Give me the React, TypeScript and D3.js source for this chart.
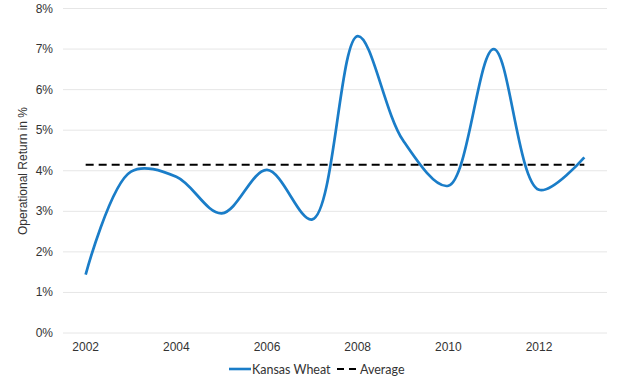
import React, { useEffect, useRef } from "react";
import * as d3 from "d3";

const years = [2002, 2003, 2004, 2005, 2006, 2007, 2008, 2009, 2010, 2011, 2012, 2013];
const kansasWheat = [1.44, 3.98, 3.85, 2.95, 4.02, 2.8, 7.32, 4.75, 3.63, 7.0, 3.53, 4.33];
const averageValue = 4.15;
const yTicks = [0, 1, 2, 3, 4, 5, 6, 7, 8];
const xTickYears = [2002, 2004, 2006, 2008, 2010, 2012];

const App: React.FC = () => {
  const svgRef = useRef<SVGSVGElement>(null);

  useEffect(() => {
    if (!svgRef.current) return;
    const svg = d3.select(svgRef.current);
    svg.selectAll("*").remove();

    const left = 63;
    const right = 607;
    const top = 8.5;
    const bottom = 333;

    const x = d3
      .scalePoint<number>()
      .domain(years)
      .range([left, right])
      .padding(0.5);

    const y = d3.scaleLinear().domain([0, 8]).range([bottom, top]);

    // Gridlines
    svg
      .append("g")
      .selectAll("line")
      .data(yTicks)
      .enter()
      .append("line")
      .attr("x1", left)
      .attr("x2", right)
      .attr("y1", (d) => y(d))
      .attr("y2", (d) => y(d))
      .attr("stroke", "#e6e6e6")
      .attr("stroke-width", 1);

    // Y tick labels
    svg
      .append("g")
      .selectAll("text")
      .data(yTicks)
      .enter()
      .append("text")
      .attr("x", 53)
      .attr("y", (d) => y(d) + 4)
      .attr("text-anchor", "end")
      .style("font-family", "'Liberation Sans', Arial, sans-serif")
      .style("font-size", "12px")
      .attr("fill", "#333")
      .text((d) => `${d}%`);

    // X tick labels
    svg
      .append("g")
      .selectAll("text")
      .data(xTickYears)
      .enter()
      .append("text")
      .attr("x", (d) => x(d) || 0)
      .attr("y", 351)
      .attr("text-anchor", "middle")
      .style("font-family", "'Liberation Sans', Arial, sans-serif")
      .style("font-size", "12px")
      .attr("fill", "#333")
      .text((d) => String(d));

    // Y axis label
    svg
      .append("text")
      .attr("transform", "rotate(-90)")
      .attr("x", -171)
      .attr("y", 27)
      .attr("text-anchor", "middle")
      .style("font-family", "'Liberation Sans', Arial, sans-serif")
      .style("font-size", "12px")
      .attr("fill", "#333")
      .text("Operational Return in %");

    // Average line
    const avgLine = d3
      .line<number>()
      .x((d) => x(d) || 0)
      .y(() => y(averageValue));

    svg
      .append("path")
      .datum(years)
      .attr("d", avgLine)
      .attr("fill", "none")
      .attr("stroke", "#000")
      .attr("stroke-width", 2)
      .attr("stroke-dasharray", "8,5");

    // Kansas Wheat line
    const line = d3
      .line<number>()
      .x((_, i) => x(years[i]) || 0)
      .y((d) => y(d))
      .curve(d3.curveCatmullRom.alpha(0.5));

    svg
      .append("path")
      .datum(kansasWheat)
      .attr("d", line)
      .attr("fill", "none")
      .attr("stroke", "#1a7dc8")
      .attr("stroke-width", 2.7)
      .attr("stroke-linejoin", "round");

    // Legend
    const legend = svg.append("g");
    legend
      .append("line")
      .attr("x1", 229)
      .attr("x2", 251)
      .attr("y1", 369)
      .attr("y2", 369)
      .attr("stroke", "#1a7dc8")
      .attr("stroke-width", 2.6);
    legend
      .append("text")
      .attr("x", 252)
      .attr("y", 373.5)
      .style("font-family", "Lato, sans-serif")
      .style("font-size", "12.5px")
      .attr("fill", "#333")
      .text("Kansas Wheat");
    legend
      .append("line")
      .attr("x1", 337)
      .attr("x2", 356)
      .attr("y1", 369)
      .attr("y2", 369)
      .attr("stroke", "#000")
      .attr("stroke-width", 2)
      .attr("stroke-dasharray", "7,5");
    legend
      .append("text")
      .attr("x", 360)
      .attr("y", 373.5)
      .style("font-family", "Lato, sans-serif")
      .style("font-size", "12.5px")
      .attr("fill", "#333")
      .text("Average");
  }, []);

  return (
    <div style={{ position: "absolute", left: 0, top: 0 }}>
      <svg ref={svgRef} width={631} height={387} style={{ display: "block" }}></svg>
    </div>
  );
};

export default App;
